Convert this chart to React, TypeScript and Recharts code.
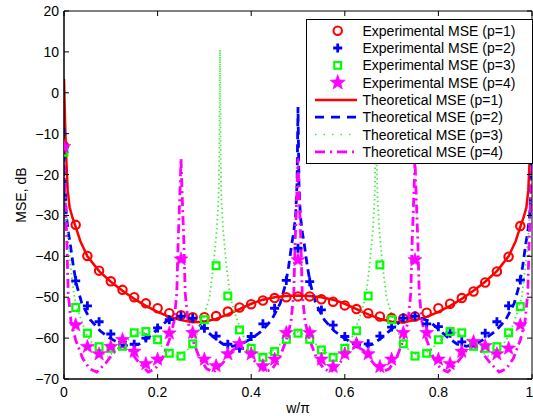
import React from 'react';
import { ComposedChart, Line, Scatter, XAxis, YAxis, Legend, Label } from 'recharts';

const FONT = '"Liberation Sans", Arial, Helvetica, sans-serif';

const xTicks = [0, 0.2, 0.4, 0.6, 0.8, 1];
const yTicks = [-70, -60, -50, -40, -30, -20, -10, 0, 10, 20];

const legendLabels = [
  'Experimental MSE (p=1)',
  'Experimental MSE (p=2)',
  'Experimental MSE (p=3)',
  'Experimental MSE (p=4)',
  'Theoretical MSE (p=1)',
  'Theoretical MSE (p=2)',
  'Theoretical MSE (p=3)',
  'Theoretical MSE (p=4)',
];

const expX = [0, 0.025, 0.05, 0.075, 0.1, 0.125, 0.15, 0.175, 0.2, 0.225, 0.25, 0.275, 0.3, 0.325, 0.35, 0.375, 0.4, 0.425, 0.45, 0.475, 0.5, 0.525, 0.55, 0.575, 0.6, 0.625, 0.65, 0.675, 0.7, 0.725, 0.75, 0.775, 0.8, 0.825, 0.85, 0.875, 0.9, 0.925, 0.95, 0.975, 1];

const expP1 = [-13, -32.3, -39.9, -43.5, -46.1, -48.2, -50.0, -51.5, -52.7, -53.9, -54.4, -54.9, -54.9, -54.6, -53.5, -52.5, -51.7, -50.8, -50.2, -50.0, -49.8, -49.8, -50.5, -51.1, -52.0, -52.9, -53.9, -54.7, -55.1, -55.2, -54.7, -53.8, -52.7, -51.6, -50.2, -48.6, -46.4, -43.7, -40.1, -32.6, -13];
const expP2 = [-13, -46, -52.1, -56, -59, -61, -61.5, -60, -57.5, -55.5, -54.6, -55.1, -57.6, -59.5, -61.5, -62.5, -59.6, -56.5, -52.7, -45.9, -38, -46.2, -53.1, -56.8, -59.6, -61.4, -61.4, -59.5, -57.3, -55.1, -54.6, -56.5, -57.2, -58.8, -60.9, -61, -58.8, -56, -52.1, -45.8, -13];
const expP3 = [-14.5, -52.5, -58.8, -62.1, -62.5, -62, -58.7, -58.4, -60.4, -63.7, -64.4, -61.4, -55.5, -42.3, -49.7, -58, -62.5, -64.7, -63.3, -60.3, -58.8, -60.3, -62.9, -64.7, -62.5, -58.2, -49.7, -42.1, -55.5, -61.4, -64.4, -63.7, -60.4, -58.4, -58.7, -62, -62.5, -62.1, -58.7, -52.3, -14.5];
const expP4 = [-13.2, -56.8, -62.1, -63.9, -62.1, -60.4, -63.3, -66.3, -65.2, -58.8, -40.7, -58.7, -65.2, -66.8, -63.9, -61.4, -63.9, -66.8, -65.2, -58.7, -40.9, -58.7, -65.2, -67, -63.9, -61.4, -63.9, -67, -65.2, -58.7, -40.9, -58.7, -65.2, -66.3, -63.3, -60.9, -61.9, -63.9, -62.5, -56.8, -13.2];

const theoryP1: [number, number][] = [
  [0, 3.4], [0.002, -6], [0.004, -14], [0.008, -24], [0.012, -28], [0.018, -30.5], [0.025, -32.8], [0.035, -36.3], [0.05, -40], [0.075, -43.6], [0.1, -46.2], [0.125, -48.4], [0.15, -50.4], [0.175, -52.1], [0.2, -53.6], [0.225, -54.8], [0.25, -55.6], [0.275, -56.1], [0.3, -56.0], [0.325, -55.3], [0.35, -54.2], [0.375, -52.9], [0.4, -51.6], [0.425, -50.6], [0.45, -50.0], [0.475, -49.7], [0.5, -49.6],
  [0.525, -49.7], [0.55, -50.0], [0.575, -50.6], [0.6, -51.6], [0.625, -52.9], [0.65, -54.2], [0.675, -55.3], [0.7, -56.0], [0.725, -56.1], [0.75, -55.6], [0.775, -54.8], [0.8, -53.6], [0.825, -52.1], [0.85, -50.4], [0.875, -48.4], [0.9, -46.2], [0.925, -43.6], [0.95, -40], [0.965, -36.3], [0.975, -32.8], [0.982, -30.5], [0.988, -28], [0.992, -24], [0.996, -14], [0.998, -6], [1, 3.4],
];

const theoryP2: [number, number][] = [
  [0, -8.6], [0.002, -22], [0.005, -30], [0.009, -34], [0.013, -36.7], [0.02, -42.5], [0.027, -47], [0.038, -51.5], [0.056, -55.5], [0.077, -58.2], [0.098, -60], [0.12, -61.4], [0.14, -62], [0.16, -61.5], [0.18, -59.8], [0.2, -57.8], [0.22, -55.8], [0.25, -54.7], [0.28, -55.8], [0.3, -57.8], [0.32, -59.8], [0.34, -61.5], [0.36, -62], [0.38, -61.4], [0.402, -60], [0.423, -58.2], [0.444, -55.5], [0.462, -51.5], [0.473, -47], [0.48, -42.5], [0.487, -36.7], [0.491, -34], [0.495, -30], [0.498, -22], [0.5, -3.5],
  [0.502, -22], [0.505, -30], [0.509, -34], [0.513, -36.7], [0.52, -42.5], [0.527, -47], [0.538, -51.5], [0.556, -55.5], [0.577, -58.2], [0.598, -60], [0.62, -61.4], [0.64, -62], [0.66, -61.5], [0.68, -59.8], [0.7, -57.8], [0.72, -55.8], [0.75, -54.7], [0.78, -55.8], [0.8, -57.8], [0.82, -59.8], [0.84, -61.5], [0.86, -62], [0.88, -61.4], [0.902, -60], [0.923, -58.2], [0.944, -55.5], [0.962, -51.5], [0.973, -47], [0.98, -42.5], [0.987, -36.7], [0.991, -34], [0.995, -30], [0.998, -22], [1, -8.6],
];

const theoryP3: [number, number][] = [
  [0, -10], [0.001, -15], [0.003, -26], [0.007, -34], [0.014, -42.5], [0.022, -50], [0.035, -55], [0.05, -59.5], [0.07, -63], [0.093, -64.5], [0.12, -62.5], [0.145, -59.5], [0.1667, -58.5], [0.188, -59.5], [0.213, -62.5], [0.24, -64.5], [0.263, -63], [0.283, -59.5], [0.298, -55], [0.311, -50], [0.319, -42.5], [0.326, -34], [0.33, -26], [0.332, -15], [0.3333, 10.5],
  [0.3347, -15], [0.3363, -26], [0.3403, -34], [0.3473, -42.5], [0.3553, -50], [0.3683, -55], [0.3833, -59.5], [0.4033, -63], [0.4263, -64.5], [0.4533, -62.5], [0.4783, -59.5], [0.5, -58.5], [0.5217, -59.5], [0.5467, -62.5], [0.5737, -64.5], [0.5967, -63], [0.6167, -59.5], [0.6317, -55], [0.6447, -50], [0.6527, -42.5], [0.6597, -34], [0.6637, -26], [0.6653, -15], [0.6667, 10.5],
  [0.668, -15], [0.67, -26], [0.674, -34], [0.681, -42.5], [0.689, -50], [0.702, -55], [0.717, -59.5], [0.737, -63], [0.76, -64.5], [0.787, -62.5], [0.812, -59.5], [0.8333, -58.5], [0.855, -59.5], [0.88, -62.5], [0.907, -64.5], [0.93, -63], [0.95, -59.5], [0.965, -55], [0.978, -50], [0.986, -42.5], [0.993, -34], [0.997, -26], [0.999, -15], [1, -10],
];

const theoryP4: [number, number][] = [
  [0, -13], [0.001, -20], [0.004, -30], [0.006, -36], [0.009, -49], [0.015, -56], [0.025, -60.5], [0.04, -65], [0.055, -67.5], [0.07, -68.3], [0.09, -66], [0.11, -63], [0.125, -62], [0.14, -63], [0.16, -66], [0.18, -68.3], [0.195, -67.5], [0.21, -65], [0.225, -60.5], [0.235, -56], [0.241, -49], [0.244, -36], [0.246, -30], [0.249, -20], [0.25, -16],
  [0.251, -20], [0.254, -30], [0.256, -36], [0.259, -49], [0.265, -56], [0.275, -60.5], [0.29, -65], [0.305, -67.5], [0.32, -68.3], [0.34, -66], [0.36, -63], [0.375, -62], [0.39, -63], [0.41, -66], [0.43, -68.3], [0.445, -67.5], [0.46, -65], [0.475, -60.5], [0.485, -56], [0.491, -49], [0.494, -36], [0.496, -30], [0.499, -20], [0.5, -16],
  [0.501, -20], [0.504, -30], [0.506, -36], [0.509, -49], [0.515, -56], [0.525, -60.5], [0.54, -65], [0.555, -67.5], [0.57, -68.3], [0.59, -66], [0.61, -63], [0.625, -62], [0.64, -63], [0.66, -66], [0.68, -68.3], [0.695, -67.5], [0.71, -65], [0.725, -60.5], [0.735, -56], [0.741, -49], [0.744, -36], [0.746, -30], [0.749, -20], [0.75, -16],
  [0.751, -20], [0.754, -30], [0.756, -36], [0.759, -49], [0.765, -56], [0.775, -60.5], [0.79, -65], [0.805, -67.5], [0.82, -68.3], [0.84, -66], [0.86, -63], [0.875, -62], [0.89, -63], [0.91, -66], [0.93, -68.3], [0.945, -67.5], [0.96, -65], [0.975, -60.5], [0.985, -56], [0.991, -49], [0.994, -36], [0.996, -30], [0.999, -20], [1, -13],
];

const toPoints = (xs: number[], ys: number[]) => xs.map((x, i) => ({ x, y: ys[i] }));
const fromPairs = (pairs: [number, number][]) => pairs.map(([x, y]) => ({ x, y }));

const RED = '#ff0000';
const BLUE = '#0000ff';
const GREEN = '#00ff00';
const GREEN_LINE = '#44ee44';
const MAGENTA = '#ff00ff';

function starPoints(cx: number, cy: number, R: number, r: number) {
  const pts: string[] = [];
  for (let i = 0; i < 10; i++) {
    const rad = i % 2 === 0 ? R : r;
    const a = -Math.PI / 2 + (i * Math.PI) / 5;
    pts.push(`${cx + rad * Math.cos(a)},${cy + rad * Math.sin(a)}`);
  }
  return pts.join(' ');
}

const CircleMark = ({ cx, cy }: any) => (
  <circle cx={cx} cy={cy} r={4.2} fill="none" stroke={RED} strokeWidth={2.1} />
);
const PlusMark = ({ cx, cy }: any) => (
  <path d={`M${cx - 4.5},${cy}H${cx + 4.5}M${cx},${cy - 4.5}V${cy + 4.5}`} stroke={BLUE} strokeWidth={2.8} fill="none" />
);
const SquareMark = ({ cx, cy }: any) => (
  <rect x={cx - 3.4} y={cy - 3.4} width={6.8} height={6.8} fill="none" stroke={GREEN} strokeWidth={2.2} />
);
const StarMark = ({ cx, cy, R = 7.3 }: any) => (
  <polygon points={starPoints(cx, cy, R, R * 0.42)} fill={MAGENTA} stroke={MAGENTA} strokeWidth={0.6} />
);

const LegendBox = () => {
  const rowY = (i: number) => 11.7 + i * 17.3;
  const mx = 31.7;
  return (
    <svg width={227} height={145} style={{ display: 'block' }}>
      <rect x={0.5} y={0.5} width={226} height={144} fill="#fff" stroke="#000" strokeWidth={1} />
      <CircleMark cx={mx} cy={rowY(0)} />
      <PlusMark cx={mx} cy={rowY(1)} />
      <SquareMark cx={mx} cy={rowY(2)} />
      <StarMark cx={mx} cy={rowY(3)} R={8} />
      <line x1={9} x2={51} y1={rowY(4)} y2={rowY(4)} stroke={RED} strokeWidth={2.5} />
      <line x1={9} x2={51} y1={rowY(5)} y2={rowY(5)} stroke={BLUE} strokeWidth={2.8} strokeDasharray="9 7" />
      <line x1={9} x2={51} y1={rowY(6)} y2={rowY(6)} stroke={GREEN_LINE} strokeWidth={1.6} strokeDasharray="1.5 7" />
      <line x1={9} x2={51} y1={rowY(7)} y2={rowY(7)} stroke={MAGENTA} strokeWidth={2.8} strokeDasharray="10 5 2 5" />
      {legendLabels.map((t, i) => (
        <text key={t} x={56.5} y={rowY(i) + 5} fontSize={14} fontFamily={FONT} fill="#000">
          {t}
        </text>
      ))}
    </svg>
  );
};

const fmtY = (v: number) => (v < 0 ? `\u2212${Math.abs(v)}` : `${v}`);
const fmtX = (v: number) => `${v}`;
const blank = () => '';

export default function App() {
  const axisLine = { stroke: '#000', strokeWidth: 1 };
  const tickStyle = { fill: '#000', fontSize: 14, fontFamily: FONT };
  return (
    <div style={{ position: 'absolute', left: 0, top: 0, width: 533, height: 416, background: '#fff' }}>
      <ComposedChart width={533} height={416} margin={{ top: 11, right: 1, bottom: 0, left: 0 }}>
        <XAxis
          xAxisId="x"
          type="number"
          dataKey="x"
          domain={[0, 1]}
          ticks={xTicks}
          tickFormatter={fmtX}
          tickLine={false}
          tickSize={0}
          tickMargin={8}
          axisLine={axisLine}
          height={37}
          tick={tickStyle}
          allowDataOverflow
        >
          <Label
            content={() => (
              <text x={298} y={413} textAnchor="middle" fontSize={14} fontFamily={FONT} fill="#000">
                w/π
              </text>
            )}
          />
        </XAxis>
        <XAxis xAxisId="xb" orientation="bottom" mirror type="number" dataKey="x" domain={[0, 1]} ticks={xTicks} tickFormatter={blank} tickSize={5} tickLine={{ stroke: '#000' }} axisLine={axisLine} allowDataOverflow />
        <XAxis xAxisId="xt" orientation="top" mirror type="number" dataKey="x" domain={[0, 1]} ticks={xTicks} tickFormatter={blank} tickSize={5} tickLine={{ stroke: '#000' }} axisLine={axisLine} allowDataOverflow />
        <YAxis
          yAxisId="y"
          type="number"
          dataKey="y"
          domain={[-70, 20]}
          ticks={yTicks}
          tickFormatter={fmtY}
          tickLine={false}
          tickSize={0}
          tickMargin={5}
          axisLine={axisLine}
          width={64}
          tick={tickStyle}
          allowDataOverflow
        >
          <Label
            content={() => (
              <text x={26} y={195} transform="rotate(-90 26 195)" textAnchor="middle" fontSize={14} fontFamily={FONT} fill="#000">
                MSE, dB
              </text>
            )}
          />
        </YAxis>
        <YAxis yAxisId="yl" orientation="left" mirror type="number" domain={[-70, 20]} ticks={yTicks} tickFormatter={blank} tickSize={5} tickLine={{ stroke: '#000' }} axisLine={axisLine} allowDataOverflow />
        <YAxis yAxisId="yr" orientation="right" mirror type="number" domain={[-70, 20]} ticks={yTicks} tickFormatter={blank} tickSize={5} tickLine={{ stroke: '#000' }} axisLine={axisLine} allowDataOverflow />

        <Scatter name={legendLabels[0]} data={toPoints(expX, expP1)} dataKey="y" xAxisId="x" yAxisId="y" shape={(p: any) => <CircleMark {...p} />} isAnimationActive={false} />
        <Scatter name={legendLabels[1]} data={toPoints(expX, expP2)} dataKey="y" xAxisId="x" yAxisId="y" shape={(p: any) => <PlusMark {...p} />} isAnimationActive={false} />
        <Scatter name={legendLabels[2]} data={toPoints(expX, expP3)} dataKey="y" xAxisId="x" yAxisId="y" shape={(p: any) => <SquareMark {...p} />} isAnimationActive={false} />
        <Scatter name={legendLabels[3]} data={toPoints(expX, expP4)} dataKey="y" xAxisId="x" yAxisId="y" shape={(p: any) => <StarMark {...p} />} isAnimationActive={false} />

        <Line name={legendLabels[4]} data={fromPairs(theoryP1)} dataKey="y" xAxisId="x" yAxisId="y" type="linear" dot={false} stroke={RED} strokeWidth={2.5} isAnimationActive={false} />
        <Line name={legendLabels[5]} data={fromPairs(theoryP2)} dataKey="y" xAxisId="x" yAxisId="y" type="linear" dot={false} stroke={BLUE} strokeWidth={2.8} strokeDasharray="8 5" isAnimationActive={false} />
        <Line name={legendLabels[6]} data={fromPairs(theoryP3)} dataKey="y" xAxisId="x" yAxisId="y" type="linear" dot={false} stroke={GREEN_LINE} strokeWidth={1.8} strokeDasharray="1.5 3" isAnimationActive={false} />
        <Line name={legendLabels[7]} data={fromPairs(theoryP4)} dataKey="y" xAxisId="x" yAxisId="y" type="linear" dot={false} stroke={MAGENTA} strokeWidth={2.8} strokeDasharray="9 4 2 4" isAnimationActive={false} />

        <Legend
          layout="vertical"
          align="center"
          verticalAlign="middle"
          wrapperStyle={{ position: 'absolute', left: 306, top: 19, width: 227, height: 145, margin: 0, padding: 0 }}
          content={() => <LegendBox />}
        />
      </ComposedChart>
    </div>
  );
}
